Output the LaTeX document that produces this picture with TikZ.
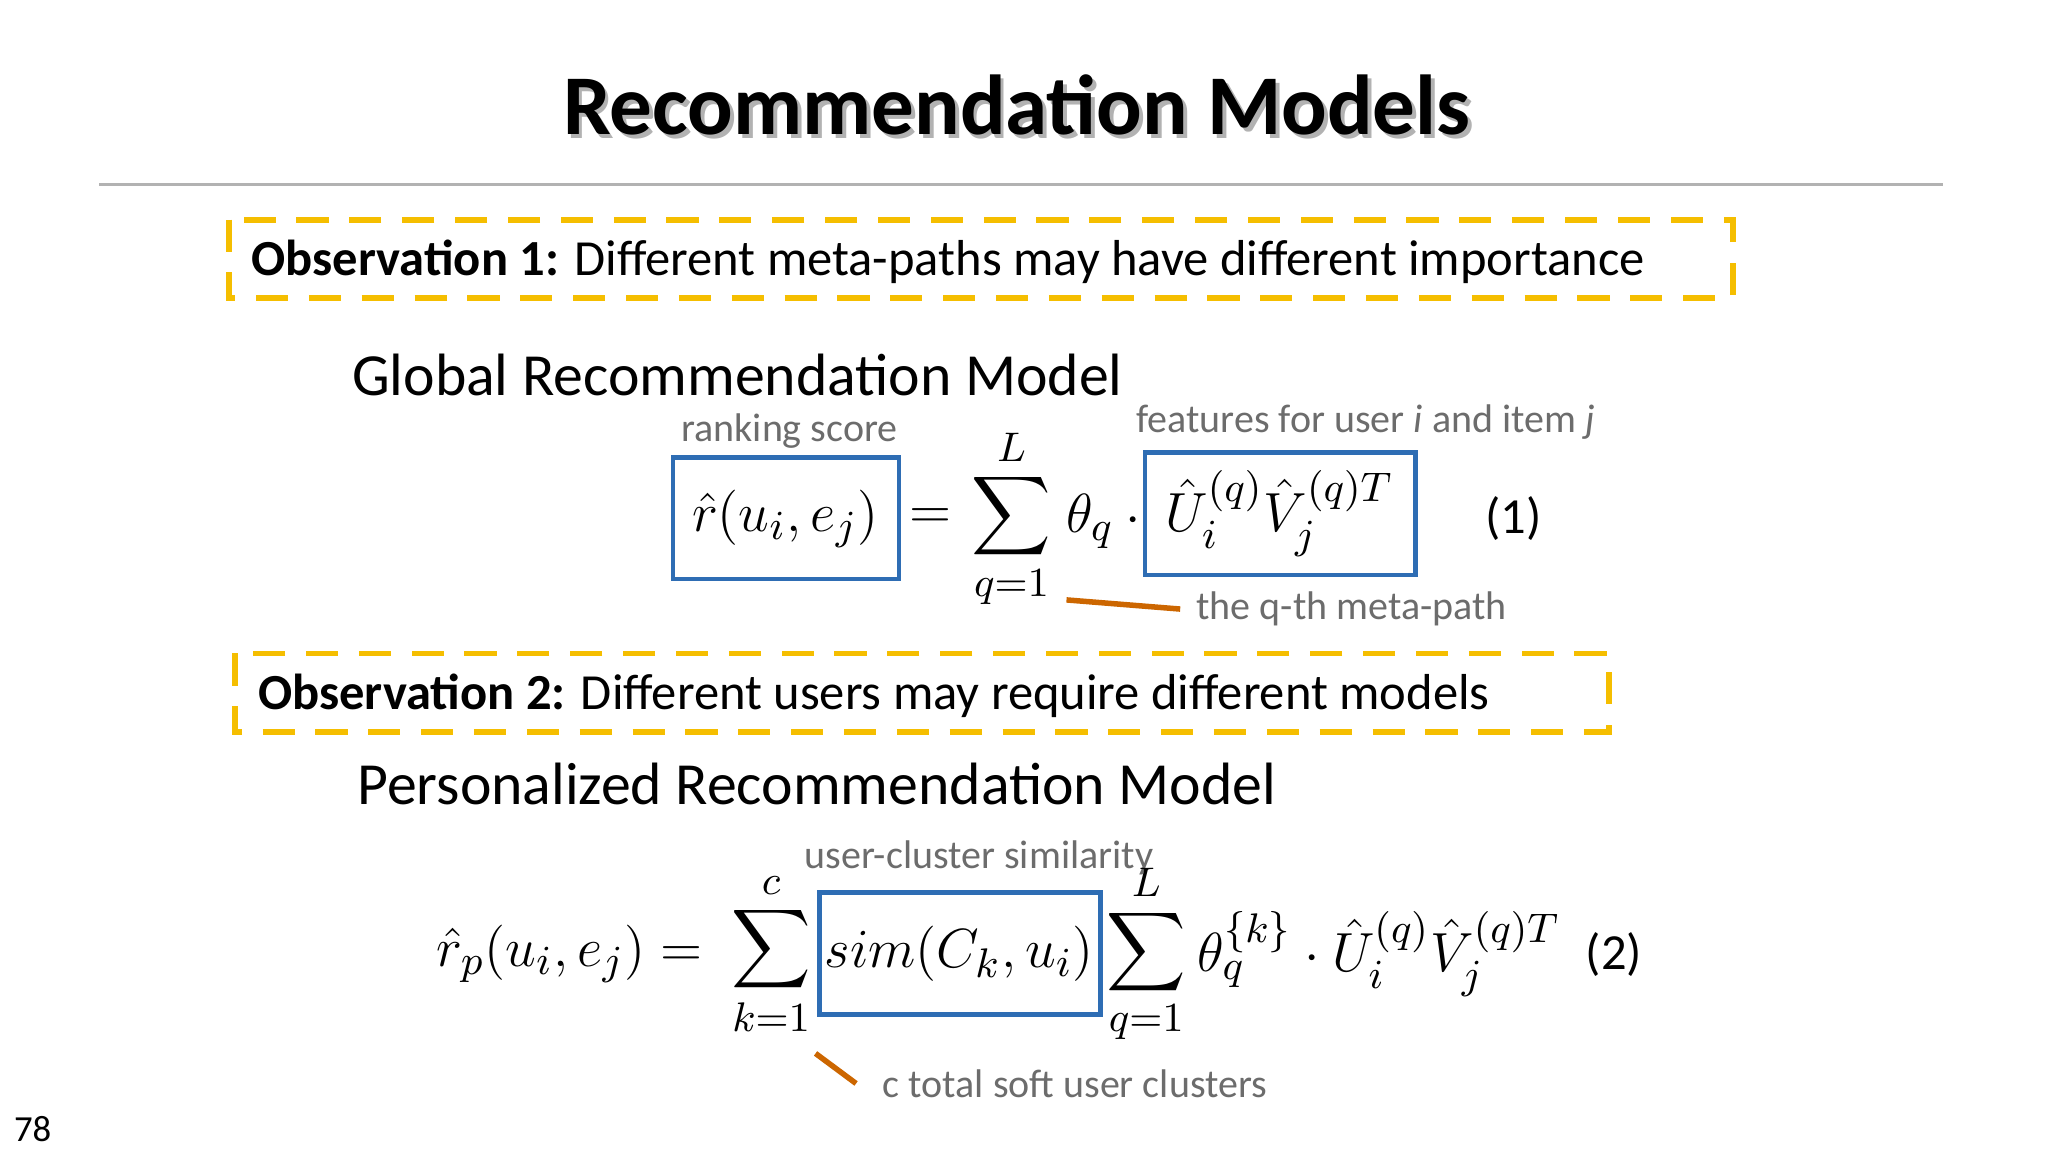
\documentclass[tikz,border=0pt]{standalone}
\usepackage{amsmath}
\usepackage{fontspec}
\setmainfont{Carlito}
\definecolor{obsy}{HTML}{F5BE00}
\definecolor{bluek}{HTML}{2E6DB4}
\begin{document}
\begin{tikzpicture}[x=0.01cm,y=-0.01cm,
  obsbox/.style={draw=obsy,line width=1.3pt,dash pattern=on 7pt off 4.5pt},
  bluebox/.style={draw=bluek,line width=1pt},
  note/.style={text=gray!85!black,font=\fontsize{8.7}{10}\selectfont},
  body/.style={font=\fontsize{11}{13}\selectfont},
  head/.style={font=\fontsize{13}{15}\selectfont},
  eq/.style={font=\fontsize{13}{15}\selectfont},
  lead/.style={draw=orange!80!black,line width=1.2pt}]
\useasboundingbox (0,0) rectangle (1567,881);
\node[font=\bfseries\fontsize{18.5}{22}\selectfont,text=gray!60] (tsh) at (781,83) {Recommendation Models};
\node[font=\bfseries\fontsize{18.5}{22}\selectfont] (title) at (778,80) {Recommendation Models};
\draw[gray!60,line width=0.6pt] (76,141) coordinate (l1) -- (1487,141) coordinate (l2);
% observation 1
\draw[obsbox] (175,168) rectangle (1326,228);
\node[body,anchor=west] (o1) at (180,200) {\textbf{Observation 1:} Different meta-paths may have different importance};
\node[head,anchor=west] (g) at (257,287) {Global Recommendation Model};
\node[note] (rs) at (604,330) {ranking score};
\node[note] (ft) at (1045,323) {features for user \textit{i} and item \textit{j}};
\node[eq] (e1a) at (601,397) {$\hat r(u_i,e_j)$};
\draw[bluebox] (515,350) rectangle (688,443);
\node[eq] (e1b) at (712,397) {$=$};
\node[eq] (e1c) at (774,397) {$\displaystyle\sum_{q=1}^{L}$};
\node[eq] (e1d) at (834,399) {$\theta_q$};
\node[eq] (e1e) at (867,399) {$\cdot$};
\node[eq] (e1f) at (979,393) {$\hat U_i^{(q)}\hat V_j^{(q)T}$};
\draw[bluebox] (876,346) rectangle (1083,440);
\node[body] (n1) at (1158,397) {(1)};
\node[note,anchor=west] (mp) at (903,466) {the q-th meta-path};
\coordinate (mpa) at (816,459);
\draw[lead] (mpa) -- (mp.west);
% observation 2
\draw[obsbox] (180,500) rectangle (1231,560);
\node[body,anchor=west] (o2) at (185,532) {\textbf{Observation 2:} Different users may require different models};
\node[head,anchor=west] (p) at (261,600) {Personalized Recommendation Model};
\node[note] (uc) at (749,656) {user-cluster similarity};
\node[eq] (e2a) at (436,730) {$\hat r_p(u_i,e_j)=$};
\node[eq] (e2b) at (590,730) {$\displaystyle\sum_{k=1}^{c}$};
\node[eq] (e2c) at (734,730) {$sim(C_k,u_i)$};
\draw[bluebox] (627,683) rectangle (842,776);
\node[eq] (e2d) at (877,730) {$\displaystyle\sum_{q=1}^{L}$};
\node[eq] (e2e) at (1055,730) {$\theta_q^{\{k\}}\cdot\hat U_i^{(q)}\hat V_j^{(q)T}$};
\node[body] (n2) at (1235,730) {(2)};
\node[note,anchor=west] (sc) at (663,829) {c total soft user clusters};
\coordinate (sca) at (624,806);
\draw[lead] (sca) -- (655,829);
\node[font=\fontsize{8}{10}\selectfont] (pg) at (25,864) {78};
\end{tikzpicture}
\end{document}
